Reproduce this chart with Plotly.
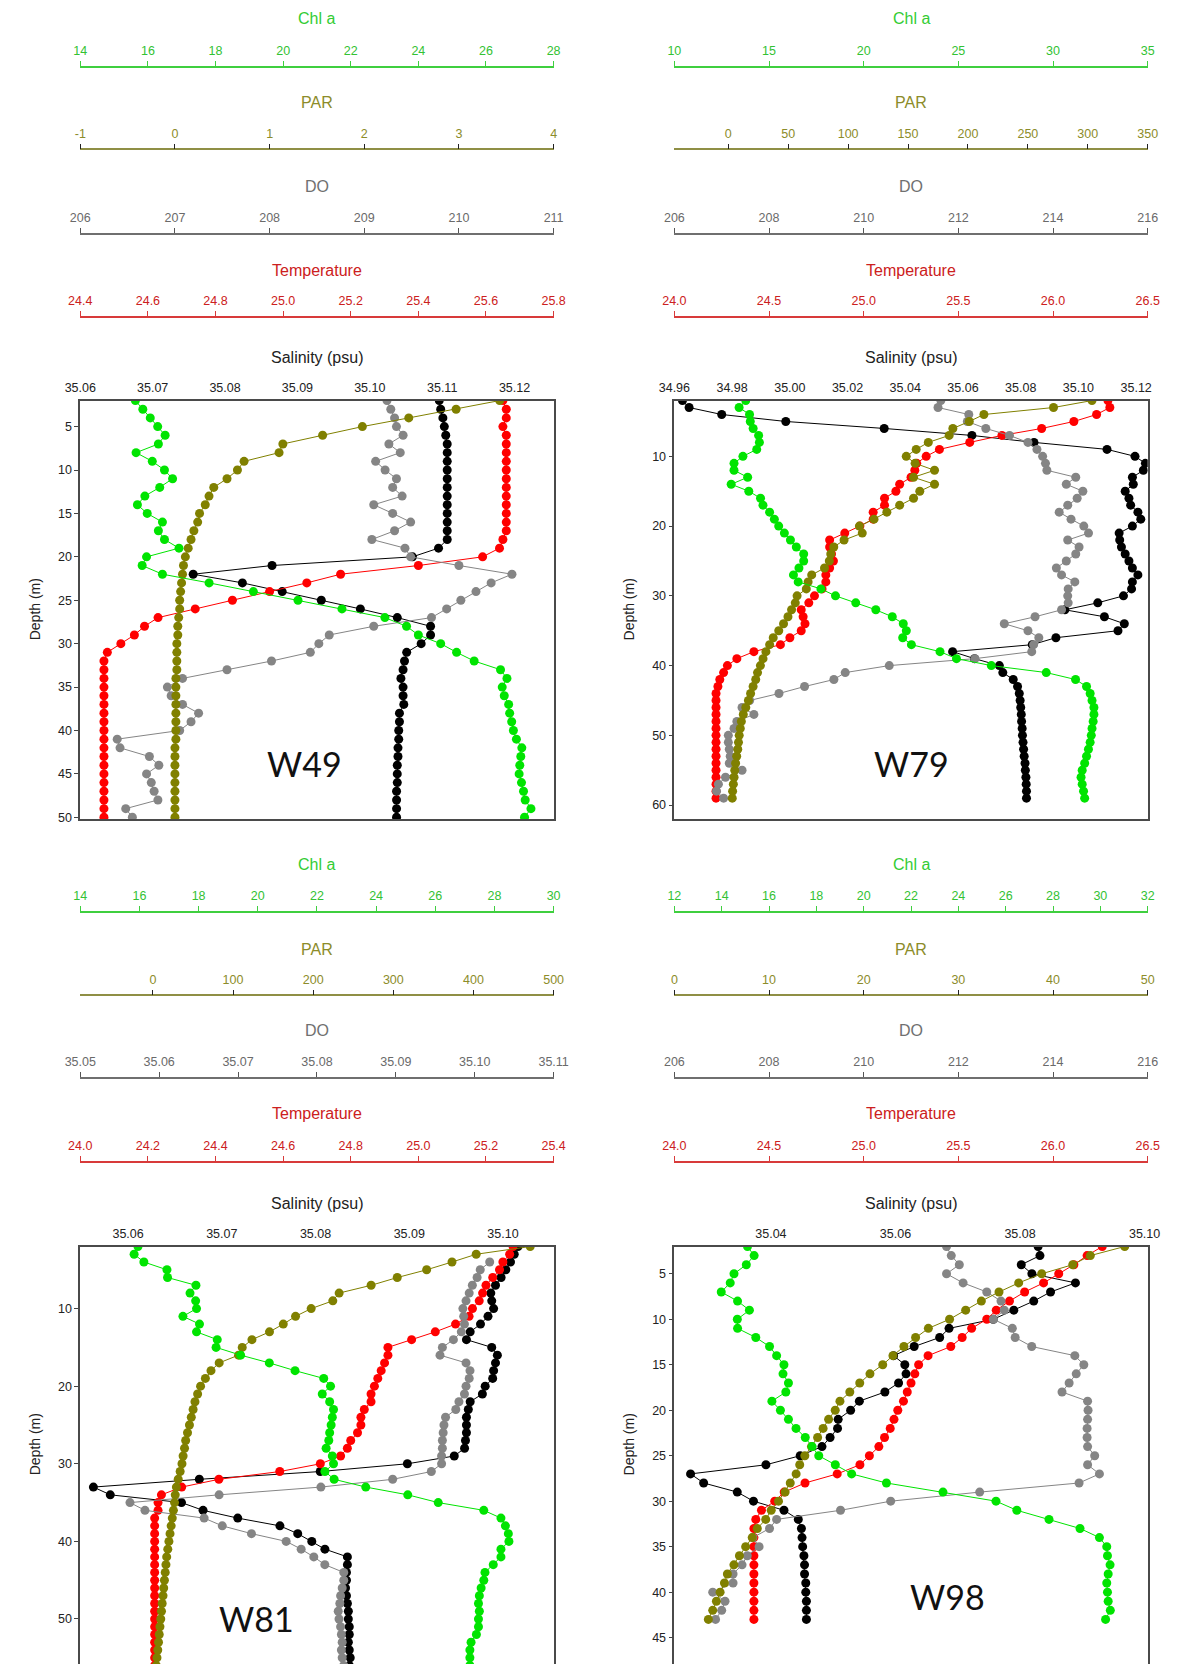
import plotly.graph_objects as go

# ======================= DATA =======================
# ---- W49 ----
W49_DEPTH = [2, 3, 4, 5, 6, 7, 8, 9, 10, 11, 12, 13, 14, 15, 16, 17, 18, 19, 20, 21, 22, 23, 24, 25, 26,
             27, 28, 29, 30, 31, 32, 33, 34, 35, 36, 37, 38, 39, 40, 41, 42, 43, 44, 45, 46, 47, 48, 49, 50]
W49_CHL = [15.63, 15.85, 16.07, 16.29, 16.51, 16.31, 15.65, 16.13, 16.49, 16.73,
           16.35, 15.91, 15.69, 15.98, 16.43, 16.31, 16.49, 16.92, 15.96, 15.83,
           16.43, 17.81, 19.12, 20.44, 21.74, 23.01, 23.65, 24.00, 24.66, 25.13,
           25.65, 26.43, 26.62, 26.48, 26.54, 26.67, 26.70, 26.76, 26.81, 26.90,
           27.06, 27.03, 27.00, 26.98, 27.05, 27.11, 27.16, 27.33, 27.14]
W49_PAR = [3.43, 2.97, 2.47, 1.98, 1.56, 1.14, 1.10, 0.73, 0.66, 0.55,
           0.41, 0.36, 0.32, 0.26, 0.24, 0.20, 0.17, 0.14, 0.11, 0.09,
           0.08, 0.07, 0.06, 0.05, 0.05, 0.04, 0.03, 0.03, 0.02, 0.02,
           0.02, 0.02, 0.01, 0.01, 0.01, 0.01, 0.01, 0.01, 0.01, 0.01,
           0.00, 0.00, 0.00, 0.00, 0.00, 0.00, 0.00, 0.00, 0.00]
W49_DO = [209.24, 209.28, 209.32, 209.34, 209.41, 209.26, 209.38, 209.12, 209.22, 209.34,
          209.30, 209.40, 209.10, 209.30, 209.49, 209.32, 209.08, 209.43, 209.49, 210.00,
          210.56, 210.34, 210.18, 210.02, 209.87, 209.71, 209.10, 208.63, 208.52, 208.43,
          208.02, 207.55, 207.08, 206.92, 206.96, 207.08, 207.25, 207.17, 207.05, 206.39,
          206.42, 206.73, 206.83, 206.70, 206.75, 206.78, 206.82, 206.48, 206.55]
W49_TEMP = [25.65, 25.66, 25.66, 25.65, 25.66, 25.66, 25.66, 25.66, 25.66, 25.66,
            25.66, 25.66, 25.66, 25.66, 25.66, 25.66, 25.65, 25.64, 25.59, 25.40,
            25.17, 25.07, 24.96, 24.85, 24.74, 24.63, 24.59, 24.56, 24.52, 24.48,
            24.47, 24.47, 24.47, 24.47, 24.47, 24.47, 24.47, 24.47, 24.47, 24.47,
            24.47, 24.47, 24.47, 24.47, 24.47, 24.47, 24.47, 24.47, 24.47]
W49_SAL = [35.1096, 35.1098, 35.1101, 35.1103, 35.1105, 35.1107, 35.1107, 35.1107, 35.1107, 35.1107,
           35.1107, 35.1107, 35.1107, 35.1107, 35.1107, 35.1107, 35.1107, 35.1095, 35.1059, 35.0865,
           35.0756, 35.0824, 35.0879, 35.0933, 35.0987, 35.1038, 35.1084, 35.1084, 35.1071, 35.1051,
           35.1048, 35.1046, 35.1043, 35.1046, 35.1046, 35.1047, 35.1041, 35.1041, 35.1040, 35.1040,
           35.1039, 35.1039, 35.1038, 35.1038, 35.1038, 35.1037, 35.1037, 35.1037, 35.1037]

# ---- W79 ----
W79_DEPTH = [2, 3, 4, 5, 6, 7, 8, 9, 10, 11, 12, 13, 14, 15, 16, 17, 18, 19, 20, 21, 22, 23, 24, 25, 26,
             27, 28, 29, 30, 31, 32, 33, 34, 35, 36, 37, 38, 39, 40, 41, 42, 43, 44, 45, 46, 47, 48, 49,
             50, 51, 52, 53, 54, 55, 56, 57, 58, 59]
W79_CHL = [13.77, 13.42, 13.97, 14.01, 14.16, 14.45, 14.49, 14.35, 13.62, 13.15,
           13.15, 13.87, 13.00, 13.93, 14.55, 14.68, 15.03, 15.28, 15.51, 15.81,
           16.13, 16.44, 16.83, 16.83, 16.58, 16.29, 16.54, 17.74, 18.51, 19.58,
           20.64, 21.51, 22.09, 22.25, 22.06, 22.52, 24.03, 24.90, 26.74, 29.64,
           31.19, 31.77, 31.96, 32.06, 32.16, 32.16, 32.12, 32.06, 32.02, 31.96,
           31.87, 31.77, 31.67, 31.54, 31.48, 31.54, 31.61, 31.67]
W79_PAR = [303.5, 271.4, 213.3, 201.1, 187.4, 184.3, 166.9, 156.8, 148.5, 155.9,
           172.1, 154.6, 172.1, 159.8, 154.6, 143.0, 132.3, 121.6, 109.4, 111.8,
           96.6, 88.0, 85.5, 84.3, 80.3, 69.6, 66.6, 65.1, 57.4, 55.9,
           52.8, 49.8, 46.1, 42.1, 37.5, 34.5, 31.4, 29.0, 26.8, 24.4,
           22.9, 20.7, 18.6, 16.8, 14.6, 12.5, 10.9, 10.0, 9.1, 8.5,
           7.9, 7.0, 6.1, 5.4, 4.8, 4.2, 3.6, 3.3]
W79_DO = [211.63, 211.57, 212.22, 212.19, 212.58, 213.08, 213.47, 213.66, 213.78, 213.84,
          213.87, 214.48, 214.28, 214.63, 214.51, 214.31, 214.13, 214.38, 214.65, 214.75,
          214.31, 214.55, 214.48, 214.28, 214.07, 214.18, 214.46, 214.32, 214.31, 214.32,
          214.18, 213.62, 212.97, 213.47, 213.70, 213.59, 213.55, 212.35, 210.54, 209.61,
          209.37, 208.75, 208.21, 207.59, 207.43, 207.68, 207.32, 207.26, 207.14, 207.14,
          207.16, 207.18, 207.16, 207.43, 207.08, 206.93, 206.89, 207.04]
W79_TEMP = [26.29, 26.30, 26.23, 26.11, 25.94, 25.73, 25.56, 25.40, 25.33, 25.28,
            25.27, 25.25, 25.19, 25.17, 25.11, 25.11, 25.05, 25.05, 24.98, 24.90,
            24.82, 24.82, 24.83, 24.84, 24.82, 24.80, 24.80, 24.78, 24.74, 24.71,
            24.67, 24.68, 24.69, 24.67, 24.61, 24.56, 24.42, 24.33, 24.28, 24.26,
            24.24, 24.23, 24.22, 24.22, 24.22, 24.22, 24.22, 24.22, 24.22, 24.22,
            24.22, 24.22, 24.22, 24.22, 24.22, 24.22, 24.22, 24.22]
W79_SAL = [34.9628, 34.9651, 34.9764, 34.9986, 35.0327, 35.0631, 35.0846, 35.1099, 35.1196, 35.1232,
           35.1225, 35.1187, 35.1190, 35.1162, 35.1175, 35.1181, 35.1206, 35.1216, 35.1187, 35.1141,
           35.1143, 35.1149, 35.1162, 35.1175, 35.1187, 35.1206, 35.1187, 35.1184, 35.1156, 35.1067,
           35.0953, 35.1090, 35.1159, 35.1137, 35.0922, 35.0840, 35.0564, 35.0640, 35.0726, 35.0738,
           35.0774, 35.0789, 35.0795, 35.0798, 35.0800, 35.0802, 35.0803, 35.0805, 35.0806, 35.0808,
           35.0810, 35.0812, 35.0815, 35.0816, 35.0818, 35.0819, 35.0820, 35.0820]

# ---- W81 ----
W81_DEPTH = [2, 3, 4, 5, 6, 7, 8, 9, 10, 11, 12, 13, 14, 15, 16, 17, 18, 19, 20, 21, 22, 23, 24, 25, 26,
             27, 28, 29, 30, 31, 32, 33, 34, 35, 36, 37, 38, 39, 40, 41, 42, 43, 44, 45, 46, 47, 48, 49,
             50, 51, 52, 53, 54, 55, 56, 57, 58]
W81_DO_DEPTH = [4, 5, 6, 7, 8, 9, 10, 11, 12, 13, 14, 15, 16, 17, 18, 19, 20, 21, 22, 23, 24, 25, 26,
                27, 28, 29, 30, 31, 32, 33, 34, 35, 36, 37, 38, 39, 40, 41, 42, 43, 44, 45, 46, 47, 48,
                49, 50, 51, 52, 53, 54, 55, 56, 57, 58]
W81_CHL = [15.95, 15.82, 16.15, 16.93, 16.95, 17.91, 17.71, 17.90, 17.93, 17.47,
           18.03, 17.93, 18.63, 18.59, 19.42, 20.39, 21.26, 22.23, 22.46, 22.18,
           22.43, 22.56, 22.52, 22.48, 22.43, 22.40, 22.31, 22.52, 22.56, 22.27,
           22.58, 23.65, 25.07, 26.10, 27.64, 28.22, 28.37, 28.47, 28.49, 28.22,
           28.22, 27.96, 27.68, 27.64, 27.55, 27.49, 27.46, 27.49, 27.46, 27.46,
           27.39, 27.21, 27.17, 27.17, 27.17, 27.13, 27.11]
W81_PAR = [470.8, 403.4, 373.2, 341.6, 304.9, 272.3, 232.4, 224.5, 197.5, 178.0,
           162.7, 145.5, 123.6, 111.5, 106.9, 82.7, 72.5, 65.5, 59.5, 55.8,
           52.5, 50.2, 47.9, 45.6, 43.2, 40.9, 39.5, 37.7, 36.3, 34.0,
           31.6, 29.3, 27.9, 27.0, 25.6, 24.2, 22.8, 21.4, 20.0, 18.6,
           17.2, 16.3, 15.4, 14.4, 13.5, 12.6, 11.6, 10.7, 9.8, 8.8,
           7.9, 7.0, 6.1, 5.1, 4.2, 3.7, 3.3]
W81_DO = [35.1019, 35.1007, 35.1003, 35.0997, 35.0993, 35.0989, 35.0985, 35.0986, 35.0987, 35.0983,
          35.0973, 35.0959, 35.0956, 35.0989, 35.0994, 35.0993, 35.0989, 35.0987, 35.0980, 35.0976,
          35.0963, 35.0961, 35.0960, 35.0959, 35.0959, 35.0958, 35.0958, 35.0945, 35.0896, 35.0805,
          35.0676, 35.0563, 35.0582, 35.0657, 35.0680, 35.0717, 35.0761, 35.0780, 35.0796, 35.0810,
          35.0834, 35.0834, 35.0832, 35.0830, 35.0829, 35.0827, 35.0828, 35.0830, 35.0831, 35.0832,
          35.0831, 35.0832, 35.0834, 35.0834, 35.0835]
W81_TEMP = [25.28, 25.27, 25.25, 25.24, 25.22, 25.20, 25.19, 25.18, 25.16, 25.15,
            25.11, 25.05, 24.98, 24.91, 24.91, 24.90, 24.89, 24.88, 24.87, 24.86,
            24.86, 24.84, 24.83, 24.83, 24.82, 24.80, 24.79, 24.77, 24.71, 24.59,
            24.41, 24.30, 24.24, 24.23, 24.23, 24.22, 24.22, 24.22, 24.22, 24.22,
            24.22, 24.22, 24.22, 24.22, 24.22, 24.22, 24.22, 24.22, 24.22, 24.22,
            24.22, 24.22, 24.22, 24.22, 24.22, 24.22, 24.22]
W81_SAL = [35.1016, 35.1012, 35.1008, 35.1003, 35.0998, 35.0992, 35.0987, 35.0988, 35.0990, 35.0984,
           35.0976, 35.0965, 35.0961, 35.0988, 35.0994, 35.0992, 35.0990, 35.0989, 35.0981, 35.0978,
           35.0965, 35.0963, 35.0961, 35.0961, 35.0961, 35.0960, 35.0959, 35.0948, 35.0898, 35.0805,
           35.0676, 35.0563, 35.0581, 35.0657, 35.0680, 35.0717, 35.0762, 35.0781, 35.0796, 35.0810,
           35.0834, 35.0834, 35.0833, 35.0833, 35.0832, 35.0833, 35.0834, 35.0835, 35.0835, 35.0836,
           35.0836, 35.0835, 35.0836, 35.0837, 35.0836, 35.0837, 35.0837]

# ---- W98 ----
W98_DEPTH = [2, 3, 4, 5, 6, 7, 8, 9, 10, 11, 12, 13, 14, 15, 16, 17, 18, 19, 20, 21, 22, 23, 24, 25, 26,
             27, 28, 29, 30, 31, 32, 33, 34, 35, 36, 37, 38, 39, 40, 41, 42, 43]
W98_CHL = [15.09, 15.37, 15.04, 14.52, 14.36, 13.98, 14.67, 15.17, 14.66, 14.67,
           15.44, 16.02, 16.32, 16.63, 16.59, 16.82, 16.71, 16.12, 16.48, 16.82,
           17.14, 17.53, 17.82, 18.10, 18.80, 19.49, 20.96, 23.35, 25.59, 26.47,
           27.83, 29.14, 29.96, 30.27, 30.30, 30.41, 30.33, 30.27, 30.30, 30.33,
           30.42, 30.22]
W98_PAR = [47.57, 43.94, 42.08, 38.80, 36.37, 34.29, 32.43, 30.77, 29.07, 26.83,
           25.48, 24.25, 23.09, 22.01, 20.66, 19.58, 18.53, 17.49, 16.99, 16.29,
           15.71, 15.13, 14.48, 13.78, 13.24, 12.86, 12.24, 11.70, 11.00, 10.23,
           9.65, 8.76, 8.22, 7.53, 6.87, 6.29, 5.60, 5.29, 4.83, 4.44,
           4.05, 3.59]
W98_DO = [211.75, 211.85, 212.02, 211.75, 212.10, 212.60, 212.90, 212.97, 212.74, 213.14,
          213.20, 213.55, 214.46, 214.65, 214.49, 214.34, 214.19, 214.73, 214.74, 214.73,
          214.72, 214.72, 214.73, 214.88, 214.73, 214.98, 214.55, 212.45, 210.57, 209.51,
          208.16, 208.01, 207.66, 207.79, 207.54, 207.43, 207.24, 207.24, 206.81, 207.07,
          207.00, 206.87]
W98_TEMP = [26.26, 26.18, 26.11, 26.03, 25.95, 25.85, 25.77, 25.70, 25.65, 25.57,
            25.52, 25.46, 25.34, 25.29, 25.27, 25.25, 25.23, 25.21, 25.18, 25.16,
            25.14, 25.11, 25.08, 25.03, 24.98, 24.86, 24.69, 24.58, 24.53, 24.46,
            24.43, 24.42, 24.42, 24.42, 24.42, 24.42, 24.42, 24.42, 24.42, 24.42,
            24.42, 24.42]
W98_SAL = [35.0829, 35.0832, 35.0802, 35.0819, 35.0889, 35.0849, 35.0822, 35.0790, 35.0757, 35.0686,
           35.0671, 35.0630, 35.0597, 35.0615, 35.0617, 35.0605, 35.0583, 35.0542, 35.0528, 35.0508,
           35.0507, 35.0495, 35.0482, 35.0447, 35.0392, 35.0271, 35.0292, 35.0346, 35.0372, 35.0421,
           35.0444, 35.0449, 35.0450, 35.0451, 35.0453, 35.0454, 35.0454, 35.0456, 35.0456, 35.0457,
           35.0457, 35.0457]

# ---- axis ticks / tick labels ----
W49_SAL_TICKS = [35.06, 35.07, 35.08, 35.09, 35.10, 35.11, 35.12]
W49_CHL_TICKS = [14, 16, 18, 20, 22, 24, 26, 28]
W49_PAR_TICKS = [-1, 0, 1, 2, 3, 4]
W49_PAR_LABELS = ["-1", "0", "1", "2", "3", "4"]
W49_DO_TICKS = [206, 207, 208, 209, 210, 211]
W49_TEMP_TICKS = [24.4, 24.6, 24.8, 25.0, 25.2, 25.4, 25.6, 25.8]
W49_DEPTH_TICKS = [5, 10, 15, 20, 25, 30, 35, 40, 45, 50]

W79_SAL_TICKS = [34.96, 34.98, 35.00, 35.02, 35.04, 35.06, 35.08, 35.10, 35.12]
W79_CHL_TICKS = [10, 15, 20, 25, 30, 35]
W79_PAR_TICKS = [0, 50, 100, 150, 200, 250, 300, 350]
W79_DO_TICKS = [206, 208, 210, 212, 214, 216]
W79_TEMP_TICKS = [24.0, 24.5, 25.0, 25.5, 26.0, 26.5]
W79_DEPTH_TICKS = [10, 20, 30, 40, 50, 60]

W81_SAL_TICKS = [35.06, 35.07, 35.08, 35.09, 35.10]
W81_CHL_TICKS = [14, 16, 18, 20, 22, 24, 26, 28, 30]
W81_PAR_TICKS = [0, 100, 200, 300, 400, 500]
W81_DO_TICKS = [35.05, 35.06, 35.07, 35.08, 35.09, 35.10, 35.11]
W81_TEMP_TICKS = [24.0, 24.2, 24.4, 24.6, 24.8, 25.0, 25.2, 25.4]
W81_DEPTH_TICKS = [10, 20, 30, 40, 50]

W98_SAL_TICKS = [35.04, 35.06, 35.08, 35.10]
W98_CHL_TICKS = [12, 14, 16, 18, 20, 22, 24, 26, 28, 30, 32]
W98_PAR_TICKS = [0, 10, 20, 30, 40, 50]
W98_DO_TICKS = [206, 208, 210, 212, 214, 216]
W98_TEMP_TICKS = [24.0, 24.5, 25.0, 25.5, 26.0, 26.5]
W98_DEPTH_TICKS = [5, 10, 15, 20, 25, 30, 35, 40, 45]

STATIONS = ["W49", "W79", "W81", "W98"]
TITLES = ["Chl a", "PAR", "DO", "Temperature", "Salinity (psu)"]

# ======================= LAYOUT =======================
W, H = 1189, 1670


def px(x):
    return x / W


def py(y):
    return 1 - y / H


GREEN, OLIVE, GREY, RED, BLACK = "#00e400", "#808000", "#858585", "#ff0000", "#000000"
FONT = "Liberation Sans, Arial, sans-serif"
TICK_SIZE = 12.5
TITLE_SIZE = 16
MSIZE = 9

TOP = dict(top=402, bottom=822, lines=[67, 150, 235, 318], titles=[19, 103, 187, 271, 359], mirror=True)
BOT = dict(top=1251, bottom=1670, lines=[915, 999, 1082, 1166], titles=[868, 953, 1034, 1118, 1208], mirror=False)
LEFT = dict(x0=66, x1=552)
RIGHT = dict(x0=676, x1=1162)

panels = [
    dict(row=TOP, col=LEFT, name=STATIONS[0], label_xy=(296, 766), depth=W49_DEPTH, yrange=[50.2, 2],
         yticks=W49_DEPTH_TICKS,
         sal=(W49_SAL, [35.06, 35.1254], W49_SAL_TICKS),
         temp=(W49_TEMP, [24.4, 25.8], W49_TEMP_TICKS, ".1f", None),
         do=(W49_DO, [206, 211], W49_DO_TICKS, "d", None),
         par=(W49_PAR, [-1, 4], W49_PAR_TICKS, "d", W49_PAR_LABELS),
         chl=(W49_CHL, [14, 28], W49_CHL_TICKS, "d", None), do_depth=W49_DEPTH, dtitle_y=612),
    dict(row=TOP, col=RIGHT, name=STATIONS[1], label_xy=(919, 766), depth=W79_DEPTH, yrange=[62, 2],
         yticks=W79_DEPTH_TICKS,
         sal=(W79_SAL, [34.96, 35.124], W79_SAL_TICKS),
         temp=(W79_TEMP, [24.0, 26.5], W79_TEMP_TICKS, ".1f", None),
         do=(W79_DO, [206, 216], W79_DO_TICKS, "d", None),
         par=(W79_PAR, [-45, 350], W79_PAR_TICKS, "d", None),
         chl=(W79_CHL, [10, 35], W79_CHL_TICKS, "d", None), do_depth=W79_DEPTH, dtitle_y=612),
    dict(row=BOT, col=LEFT, name=STATIONS[2], label_xy=(247, 1624), depth=W81_DEPTH, yrange=[55.8, 2],
         yticks=W81_DEPTH_TICKS,
         sal=(W81_SAL, [35.0549, 35.1054], W81_SAL_TICKS),
         temp=(W81_TEMP, [24.0, 25.4], W81_TEMP_TICKS, ".1f", None),
         do=(W81_DO, [35.05, 35.11], W81_DO_TICKS, ".2f", None),
         par=(W81_PAR, [-90.6, 500], W81_PAR_TICKS, "d", None),
         chl=(W81_CHL, [14, 30], W81_CHL_TICKS, "d", None), do_depth=W81_DO_DEPTH, dtitle_y=1450),
    dict(row=BOT, col=RIGHT, name=STATIONS[3], label_xy=(956, 1602), depth=W98_DEPTH, yrange=[47.9, 2],
         yticks=W98_DEPTH_TICKS,
         sal=(W98_SAL, [35.0245, 35.1005], W98_SAL_TICKS),
         temp=(W98_TEMP, [24.0, 26.5], W98_TEMP_TICKS, ".1f", None),
         do=(W98_DO, [206, 216], W98_DO_TICKS, "d", None),
         par=(W98_PAR, [0, 50], W98_PAR_TICKS, "d", None),
         chl=(W98_CHL, [12, 32], W98_CHL_TICKS, "d", None), do_depth=W98_DEPTH, dtitle_y=1450),
]

# axis styles: (line color, tick color, label color, title color)
STYLE = {
    "chl": ("#3fcf3f", "#3fcf3f", "#33c233", "#33cc33"),
    "par": ("#8f8f45", "#222222", "#8c8c2a", "#8c8c2a"),
    "do": ("#6f6f6f", "#555555", "#6a6a6a", "#707070"),
    "temp": ("#d83a3a", "#d83a3a", "#cc2020", "#cc2020"),
}
SERIES_COLOR = {"sal": BLACK, "temp": RED, "do": GREY, "par": OLIVE, "chl": GREEN}


def xname(i):
    return "xaxis" if i == 1 else f"xaxis{i}"


def xref(i):
    return "x" if i == 1 else f"x{i}"


layout = dict(width=W, height=H, margin=dict(l=0, r=0, t=0, b=0),
              paper_bgcolor="white", plot_bgcolor="rgba(0,0,0,0)", showlegend=False,
              font=dict(family=FONT, size=TICK_SIZE, color="#222"))
annotations = []
traces = []

for k, P in enumerate(panels):
    row, col = P["row"], P["col"]
    base = 5 * k + 1
    yid = k + 1
    yname = "yaxis" if yid == 1 else f"yaxis{yid}"
    yref = "y" if yid == 1 else f"y{yid}"
    dom = [px(col["x0"]), px(col["x1"])]
    cx = px((col["x0"] + col["x1"]) / 2)

    sal_vals, sal_range, sal_ticks = P["sal"]
    layout[xname(base)] = dict(
        domain=dom, anchor=yref, side="top", range=sal_range, tickvals=sal_ticks, tickformat=".2f",
        ticks="", showline=True, mirror=row["mirror"], linecolor="#4a4a4a", linewidth=1.6,
        showgrid=False, zeroline=False, tickfont=dict(size=TICK_SIZE, color="#222"), ticklabelstandoff=2)
    layout[yname] = dict(
        domain=[py(row["bottom"]), py(row["top"])], anchor=xref(base), range=P["yrange"],
        tickvals=P["yticks"], ticks="outside", ticklen=4, tickcolor="#444", showline=True, mirror=True,
        linecolor="#4a4a4a", linewidth=1.6, showgrid=False, zeroline=False,
        tickfont=dict(size=TICK_SIZE, color="#222"))
    traces.append(go.Scatter(x=sal_vals, y=P["depth"], xaxis=xref(base), yaxis=yref,
                             mode="lines+markers", line=dict(color=BLACK, width=1),
                             marker=dict(size=MSIZE, color=BLACK), hoverinfo="skip"))

    # overlay axes: temp (lowest), DO, PAR, chl (top layer)
    order = ["temp", "do", "par", "chl"]
    line_ix = {"chl": 0, "par": 1, "do": 2, "temp": 3}
    for j, key in enumerate(order):
        idx = base + 1 + j
        vals, rng, tks, fmt, labels = P[key]
        depth = P["do_depth"] if key == "do" else P["depth"]
        lc, tc, lab, _ = STYLE[key]
        ax = dict(
            overlaying=xref(base), anchor="free", position=py(row["lines"][line_ix[key]]), side="top",
            range=rng, tickvals=tks, tickformat=fmt, ticks="outside", ticklen=5, tickwidth=1.2,
            tickcolor=tc, showline=True, linecolor=lc, linewidth=1.6, showgrid=False, zeroline=False,
            tickfont=dict(size=TICK_SIZE, color=lab), ticklabelstandoff=1)
        if labels is not None:
            ax["ticktext"] = labels
        layout[xname(idx)] = ax
        c = SERIES_COLOR[key]
        traces.append(go.Scatter(x=vals, y=depth, xaxis=xref(idx), yaxis=yref,
                                 mode="lines+markers", line=dict(color=c, width=1),
                                 marker=dict(size=MSIZE, color=c), hoverinfo="skip"))

    # titles
    title_cols = [STYLE["chl"][3], STYLE["par"][3], STYLE["do"][3], STYLE["temp"][3], "#222"]
    for t, ty, tcol in zip(TITLES, row["titles"], title_cols):
        annotations.append(dict(text=t, x=cx, y=py(ty), xref="paper", yref="paper", showarrow=False,
                                xanchor="center", yanchor="middle",
                                font=dict(size=TITLE_SIZE, color=tcol, family=FONT)))
    # depth title
    annotations.append(dict(text="Depth (m)", x=px(col["x0"] - 47), y=py(P["dtitle_y"]), xref="paper",
                            yref="paper", showarrow=False, textangle=-90, xanchor="center", yanchor="middle",
                            font=dict(size=14, color="#222", family=FONT)))
    # station label
    lx, ly = P["label_xy"]
    annotations.append(dict(text=P["name"], x=px(lx), y=py(ly), xref="paper", yref="paper", showarrow=False,
                            xanchor="center", yanchor="middle",
                            font=dict(size=34, color="#111", family="Lato, Open Sans, sans-serif")))

layout["annotations"] = annotations
fig = go.Figure(data=traces, layout=layout)
fig.write_html("out.html")
